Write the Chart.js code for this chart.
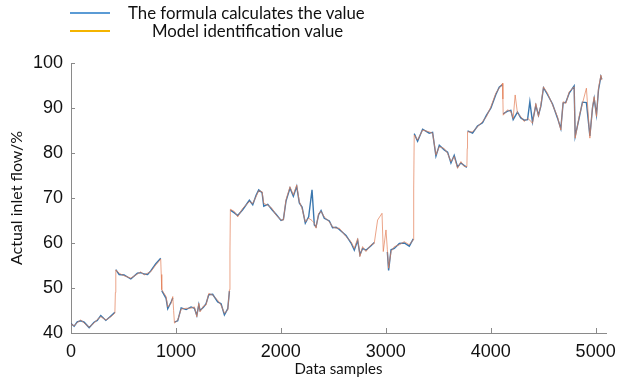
<!DOCTYPE html>
<html lang="en">
<head>
<meta charset="UTF-8">
<title>Actual inlet flow</title>
<script src="https://cdn.jsdelivr.net/npm/chart.js"></script>
<style>
  body { margin: 0; background: #fff; }
  #wrap { position: relative; width: 624px; height: 389px; }
  .key { position: absolute; left: 70px; width: 40px; height: 2px; }
  .lbl { position: absolute; font-family: Lato, sans-serif; font-size: 16.8px; color: #111; line-height: 20px; white-space: nowrap; }
</style>
</head>
<body>
<div id="wrap">
  <canvas id="flowChart" width="624" height="389"></canvas>
  <div class="key" style="top:12px;background:#5b9bd5"></div>
  <div class="lbl" id="lbl1" style="left:128px;top:3px"></div>
  <div class="key" style="top:30px;background:#f4b400"></div>
  <div class="lbl" id="lbl2" style="left:152px;top:21px"></div>
</div>
<script>
// series names
const seriesNames = ["The formula calculates the value", "Model identification value"];

// sample index of every read point
const sampleIndex = [
  0, 30, 60, 93, 125, 173, 220, 250, 284, 332, 380, 418, 423, 427, 459, 506, 570, 633, 665, 697,
  730, 760, 808, 855, 860, 865, 906, 922, 954, 970, 978, 986, 1017, 1050, 1097, 1144, 1176, 1199, 1218, 1230,
  1262, 1287, 1313, 1350, 1398, 1430, 1462, 1494, 1510, 1515, 1519, 1557, 1589, 1636, 1700, 1732, 1764, 1789, 1821, 1837,
  1875, 1916, 1954, 2002, 2024, 2049, 2087, 2119, 2151, 2176, 2202, 2233, 2265, 2297, 2319, 2335, 2360, 2383, 2414, 2462,
  2493, 2526, 2557, 2621, 2669, 2700, 2732, 2754, 2779, 2811, 2859, 2890, 2922, 2964, 2976, 3002, 3015, 3027, 3050, 3081,
  3129, 3176, 3224, 3262, 3266, 3271, 3303, 3351, 3414, 3446, 3478, 3510, 3557, 3589, 3621, 3652, 3684, 3716, 3748, 3773,
  3776, 3779, 3827, 3874, 3922, 3960, 4002, 4049, 4081, 4113, 4116, 4119, 4160, 4192, 4214, 4233, 4255, 4287, 4319, 4351,
  4373, 4398, 4430, 4455, 4478, 4503, 4541, 4589, 4636, 4668, 4690, 4716, 4748, 4795, 4805, 4843, 4874, 4912, 4945, 4970,
  4986, 5008, 5027, 5050, 5059
];

// model identification value (orange)
const modelValues = [
  42.0, 41.6, 42.3, 42.9, 42.2, 41.3, 42.2, 43.0, 43.6, 42.9, 43.6, 44.4, 49.0, 54.0, 53.3, 52.7, 52.2, 53.1, 53.6, 52.9,
  53.3, 53.6, 55.1, 56.4, 53.0, 49.6, 48.1, 45.8, 46.6, 48.1, 45.0, 42.2, 42.9, 45.3, 45.5, 45.5, 45.8, 43.6, 46.6, 44.7,
  46.0, 46.2, 48.8, 48.4, 47.3, 46.2, 44.4, 45.1, 49.6, 58.0, 67.5, 67.0, 65.8, 67.7, 69.2, 68.8, 70.3, 71.6, 71.4, 68.8,
  68.4, 67.7, 66.2, 65.1, 65.1, 69.6, 72.5, 70.7, 72.9, 69.2, 67.7, 64.7, 65.5, 65.0, 64.4, 63.3, 66.6, 67.0, 65.8, 64.7,
  63.6, 63.3, 63.3, 61.4, 60.3, 58.8, 61.0, 57.0, 59.2, 58.1, 59.6, 59.9, 65.1, 66.6, 58.1, 62.9, 58.5, 54.4, 58.1, 59.2,
  59.6, 60.3, 59.6, 60.7, 72.0, 84.0, 82.9, 85.1, 84.7, 84.4, 79.6, 81.4, 81.0, 79.9, 78.1, 79.2, 76.6, 78.1, 77.0, 77.0,
  81.0, 84.7, 84.7, 85.8, 87.0, 88.1, 90.3, 93.3, 94.4, 95.5, 92.0, 88.4, 89.6, 89.2, 87.7, 92.9, 88.8, 88.1, 87.0, 87.7,
  87.3, 86.6, 91.0, 88.1, 90.7, 94.7, 93.3, 90.7, 88.1, 85.1, 91.4, 91.0, 93.6, 94.7, 83.3, 88.1, 91.0, 94.4, 83.3, 90.3,
  92.5, 88.1, 94.4, 97.3, 96.2
];

// formula calculated value (blue), gaps where the model jumps
const formulaValues = [
  42.1, 41.5, 42.5, 42.7, 42.4, 41.2, 42.4, 42.8, 43.9, 42.8, 43.8, 44.6, null, 54.1, 53.0, 52.9, 52.0, 53.3, 53.4, 53.1,
  53.0, 53.8, 55.4, 56.6, null, 49.4, 47.7, 45.4, 46.9, 47.8, null, 42.4, 42.7, 45.6, 45.2, 45.8, 45.5, 43.9, 46.3, 45.0,
  45.7, 46.5, 48.5, 48.6, 46.9, 46.5, 44.0, 45.4, 49.3, null, 67.3, 66.7, 66.1, 67.4, 69.5, 68.5, 70.6, 71.8, 71.2, 68.2,
  68.6, 67.4, 66.4, 65.0, 65.2, 69.3, 72.2, 70.4, 72.6, 68.9, 68.0, 64.4, 65.8, 71.8, 64.0, 63.6, 66.3, 67.2, 65.5, 64.9,
  63.4, 63.5, 63.0, 61.7, 60.0, 58.4, 60.6, 57.4, 58.8, 58.4, 59.4, 60.1, null, null, null, null, 58.0, 53.9, 58.5, 58.8,
  59.9, 60.0, 59.3, 60.9, null, 84.3, 82.6, 85.3, 84.4, 84.6, 79.3, 81.7, 80.7, 80.2, 77.8, 79.5, 76.9, 77.8, 77.2, 76.8,
  null, 84.9, 84.4, 86.0, 86.7, 88.4, 90.0, 93.0, 94.6, 95.2, null, 88.7, 89.3, 89.5, 87.4, 88.2, 89.1, 87.8, 87.3, 87.4,
  91.4, 86.9, 90.6, 88.4, 90.4, 94.5, 93.0, 90.9, 87.8, 85.4, 91.1, 91.3, 93.3, 94.9, 83.7, 87.8, 91.3, 91.2, 83.8, 90.0,
  92.1, 88.5, 94.0, 97.0, 96.4
];

// axis ticks
const xTicks = [0, 1000, 2000, 3000, 4000, 5000];
const yTicks = [40, 50, 60, 70, 80, 90, 100];

document.getElementById("lbl1").textContent = seriesNames[0];
document.getElementById("lbl2").textContent = seriesNames[1];

const toPoints = (vals) => sampleIndex.map((x, i) => ({ x: x, y: vals[i] }));

// MATLAB-style ticks pointing into the plot
const innerTicks = {
  id: "innerTicks",
  afterDraw(chart) {
    const ctx = chart.ctx;
    const xs = chart.scales.x, ys = chart.scales.y;
    ctx.save();
    ctx.strokeStyle = "#8a8a8a";
    ctx.lineWidth = 1;
    ctx.beginPath();
    xTicks.forEach((t) => {
      const px = Math.round(xs.getPixelForValue(t)) + 0.5;
      ctx.moveTo(px, ys.bottom);
      ctx.lineTo(px, ys.bottom - 5);
    });
    yTicks.forEach((t) => {
      const py = Math.round(ys.getPixelForValue(t)) + 0.5;
      ctx.moveTo(xs.left, py);
      ctx.lineTo(xs.left + 4, py);
    });
    ctx.stroke();
    ctx.restore();
  },
};

const tickFont = { family: "'Liberation Sans', Arial, sans-serif", size: 18 };
const titleFont = { family: "Lato, sans-serif", size: 15 };

new Chart(document.getElementById("flowChart").getContext("2d"), {
  type: "line",
  data: {
    datasets: [
      {
        label: seriesNames[1],
        data: toPoints(modelValues),
        borderColor: "rgba(226, 125, 85, 0.7)",
        borderWidth: 1,
        pointRadius: 0,
        tension: 0,
        spanGaps: false,
        order: 1,
      },
      {
        label: seriesNames[0],
        data: toPoints(formulaValues),
        borderColor: "rgba(25, 95, 160, 0.85)",
        borderWidth: 1.4,
        pointRadius: 0,
        tension: 0,
        spanGaps: false,
        order: 2,
      },
    ],
  },
  options: {
    responsive: false,
    animation: false,
    layout: { padding: { left: 0, right: 17, top: 63, bottom: 0 } },
    plugins: { legend: { display: false }, tooltip: { enabled: false } },
    scales: {
      x: {
        type: "linear",
        min: 0,
        max: 5100,
        grid: { display: false, drawTicks: false },
        border: { display: true, color: "#8a8a8a", width: 1 },
        ticks: { stepSize: 1000, includeBounds: false, padding: 8, color: "#111", font: tickFont, maxRotation: 0,
                 callback: (v) => String(v) },
        afterBuildTicks: (s) => { s.ticks = xTicks.map((v) => ({ value: v })); },
        afterFit: (s) => { s.height = 56; },
        title: { display: true, text: "Data samples", color: "#111", font: titleFont, padding: { top: 0, bottom: 11 } },
      },
      y: {
        min: 40,
        max: 100,
        grid: { display: false, drawTicks: false },
        border: { display: true, color: "#8a8a8a", width: 1 },
        ticks: { stepSize: 10, padding: 8, color: "#111", font: tickFont, callback: (v) => String(v) },
        afterBuildTicks: (s) => { s.ticks = yTicks.map((v) => ({ value: v })); },
        afterFit: (s) => { s.width = 71; },
        title: { display: true, text: "Actual inlet flow/%", color: "#111", font: { family: "Lato, sans-serif", size: 16 }, padding: { top: 7, bottom: 0 } },
      },
    },
  },
  plugins: [innerTicks],
});
</script>
</body>
</html>
